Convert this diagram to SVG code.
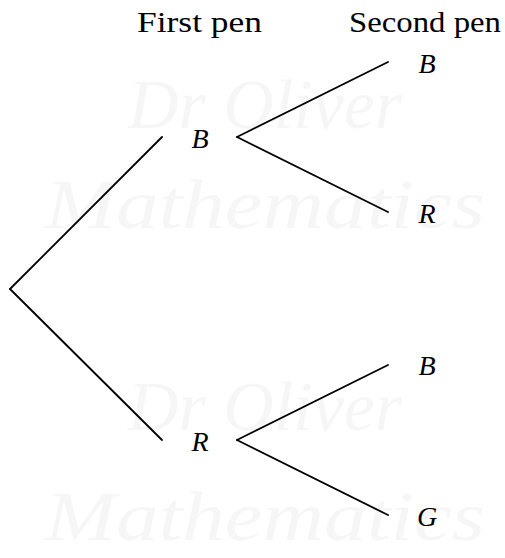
<svg xmlns="http://www.w3.org/2000/svg" width="505" height="558" viewBox="0 0 505 558">
<style>
text{font-family:"Liberation Serif","Times New Roman",serif}
.wm{font-style:italic;font-size:70px;fill:#f6f6f6}
.hd{font-size:29px;fill:#000}
.lb{font-style:italic;font-size:28px;fill:#000;text-anchor:middle}
.br{stroke:#000;stroke-width:1.8;fill:none;stroke-linecap:round}
</style>
<rect width="505" height="558" fill="#fff"/>
<g id="watermark">
<text class="wm" x="265" y="128" text-anchor="middle">Dr Oliver</text>
<text class="wm" x="265" y="228" text-anchor="middle" textLength="440" lengthAdjust="spacingAndGlyphs">Mathematics</text>
<text class="wm" x="265" y="430" text-anchor="middle">Dr Oliver</text>
<text class="wm" x="265" y="540" text-anchor="middle" textLength="440" lengthAdjust="spacingAndGlyphs">Mathematics</text>
</g>
<g id="headers">
<text class="hd" x="137" y="32" textLength="125" lengthAdjust="spacingAndGlyphs">First pen</text>
<text class="hd" x="349" y="32" textLength="152" lengthAdjust="spacingAndGlyphs">Second pen</text>
</g>
<g id="connectors">
<line class="br" x1="10" y1="289" x2="162" y2="137"/>
<line class="br" x1="10" y1="289" x2="162" y2="440"/>
<line class="br" x1="237" y1="137" x2="388" y2="62"/>
<line class="br" x1="237" y1="137" x2="388" y2="212"/>
<line class="br" x1="237" y1="440" x2="388" y2="365"/>
<line class="br" x1="237" y1="440" x2="388" y2="515"/>
</g>
<g id="n1B"><text class="lb" x="200" y="148">B</text></g>
<g id="n1R"><text class="lb" x="200" y="451">R</text></g>
<g id="n2BB"><text class="lb" x="427" y="73">B</text></g>
<g id="n2BR"><text class="lb" x="427" y="223">R</text></g>
<g id="n2RB"><text class="lb" x="427" y="375">B</text></g>
<g id="n2RG"><text class="lb" x="427" y="526">G</text></g>
</svg>
